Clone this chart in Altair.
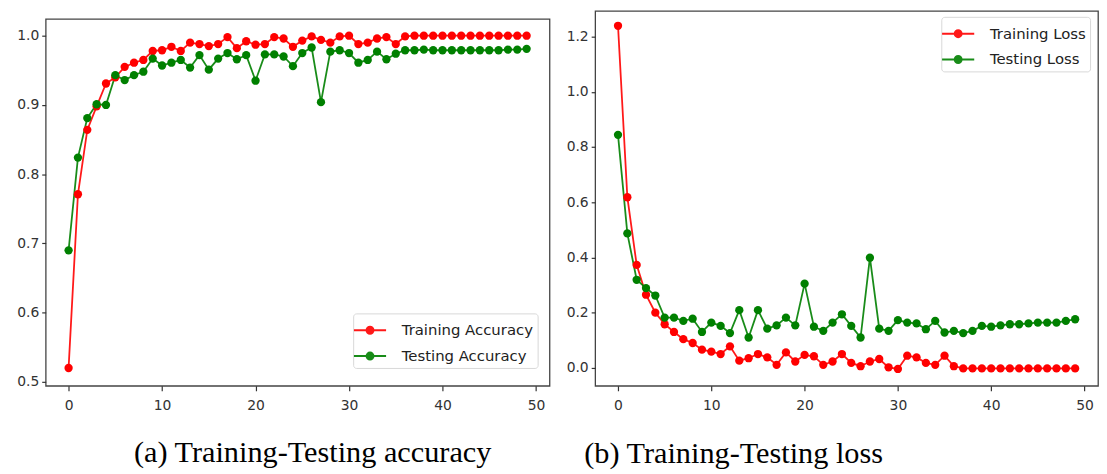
import altair as alt
import pandas as pd

epochs = list(range(50))

train_acc = [0.520, 0.771, 0.864, 0.898, 0.931, 0.940, 0.955, 0.961, 0.965, 0.978,
             0.979, 0.984, 0.978, 0.990, 0.988, 0.985, 0.988, 0.998, 0.982, 0.992,
             0.987, 0.988, 0.998, 0.996, 0.984, 0.993, 0.999, 0.994, 0.990, 0.999,
             1.000, 0.988, 0.990, 0.996, 0.998, 0.988, 0.999, 1.000, 1.000, 1.000,
             1.000, 1.000, 1.000, 1.000, 1.000, 1.000, 1.000, 1.000, 1.000, 1.000]
test_acc = [0.690, 0.824, 0.881, 0.901, 0.900, 0.943, 0.936, 0.943, 0.948, 0.967,
            0.957, 0.961, 0.965, 0.954, 0.972, 0.951, 0.967, 0.975, 0.966, 0.972,
            0.935, 0.973, 0.973, 0.970, 0.956, 0.975, 0.983, 0.904, 0.977, 0.979,
            0.975, 0.961, 0.965, 0.977, 0.966, 0.974, 0.979, 0.979, 0.980, 0.979,
            0.979, 0.979, 0.979, 0.979, 0.979, 0.979, 0.979, 0.980, 0.980, 0.981]
train_loss = [1.239, 0.618, 0.373, 0.265, 0.200, 0.158, 0.130, 0.104, 0.090, 0.066,
              0.059, 0.050, 0.078, 0.026, 0.035, 0.050, 0.038, 0.011, 0.056, 0.023,
              0.047, 0.042, 0.011, 0.023, 0.050, 0.018, 0.006, 0.023, 0.032, 0.002,
              -0.004, 0.044, 0.038, 0.018, 0.011, 0.044, 0.006, -0.002, -0.002, -0.002,
              -0.002, -0.002, -0.002, -0.002, -0.002, -0.002, -0.002, -0.002, -0.002, -0.002]
test_loss = [0.844, 0.487, 0.319, 0.289, 0.262, 0.182, 0.182, 0.170, 0.178, 0.130,
             0.164, 0.152, 0.126, 0.209, 0.110, 0.209, 0.142, 0.154, 0.182, 0.154,
             0.305, 0.149, 0.134, 0.164, 0.194, 0.152, 0.110, 0.399, 0.142, 0.134,
             0.173, 0.164, 0.161, 0.140, 0.170, 0.128, 0.134, 0.126, 0.134, 0.152,
             0.149, 0.154, 0.158, 0.158, 0.161, 0.164, 0.164, 0.164, 0.170, 0.176]

acc_names = ["Training Accuracy", "Testing Accuracy"]
loss_names = ["Training Loss", "Testing Loss"]
series_colors = ["#ff0000", "#008000"]
x_ticks = [0, 10, 20, 30, 40, 50]
acc_ticks = [0.5, 0.6, 0.7, 0.8, 0.9, 1.0]
loss_ticks = [0.0, 0.2, 0.4, 0.6, 0.8, 1.0, 1.2]
captions = ["(a) Training-Testing accuracy", "(b) Training-Testing loss"]

LEGEND_SYMBOL = ("M-1.35,0L1.35,0"
                 "M0.29,0A0.29,0.29 0 1,1 -0.29,0A0.29,0.29 0 1,1 0.29,0"
                 "M0.125,0A0.125,0.125 0 1,1 -0.125,0A0.125,0.125 0 1,1 0.125,0")


def long_df(names, a, b):
    return pd.DataFrame({
        "epoch": epochs + epochs,
        "value": a + b,
        "series": [names[0]] * len(a) + [names[1]] * len(b),
    })


def panel(df, names, ticks, ydom, w, h, lx, ly, caption, cap_dx, cap_off, yext):
    color = alt.Color(
        "series:N",
        scale=alt.Scale(domain=names, range=series_colors),
        sort=names,
        legend=alt.Legend(
            title=None, orient="none", legendX=lx, legendY=ly,
            symbolType=LEGEND_SYMBOL, symbolSize=576, symbolStrokeWidth=2,
            labelFont="DejaVu Sans", labelFontSize=15, labelColor="#222",
            labelOffset=19, padding=4, rowPadding=5,
            strokeColor="#d8d8d8", fillColor="rgba(255,255,255,0.85)",
            cornerRadius=3,
        ),
    )
    xs = alt.Scale(domain=[-2.45, 51.45], nice=False, zero=False)
    ys = alt.Scale(domain=ydom, nice=False, zero=False)
    return alt.Chart(df).mark_line(
        strokeWidth=1.8, opacity=0.9,
        point=alt.OverlayMarkDef(filled=True, size=70, opacity=1),
    ).encode(
        x=alt.X("epoch:Q", scale=xs,
                axis=alt.Axis(values=x_ticks, title=None, grid=False, domain=False,
                              tickSize=5, labelPadding=8)),
        y=alt.Y("value:Q", scale=ys,
                axis=alt.Axis(values=ticks, format=".1f", title=None, grid=False,
                              domain=False, tickSize=4, labelPadding=3,
                              minExtent=yext, maxExtent=yext)),
        color=color,
    ).properties(
        width=w, height=h,
        title=alt.TitleParams(
            caption, orient="bottom", anchor="start", frame="group", dx=cap_dx,
            offset=cap_off, font="Liberation Serif", fontSize=30.5,
            fontWeight="normal", color="black", baseline="top",
        ),
    )


left = panel(long_df(acc_names, train_acc, test_acc), acc_names, acc_ticks,
             [0.4943, 1.0244], 508, 370, 310, 305, captions[0], 89, 26, 37)
right = panel(long_df(loss_names, train_loss, test_loss), loss_names, loss_ticks,
              [-0.065, 1.293], 507, 378, 349, 6, captions[1], -11, 27, 34)

# invisible 1px strip that pushes the left panel a few pixels lower than the right one
spacer = alt.Chart(pd.DataFrame({"s": [0]})).mark_point(size=0, opacity=0).encode(
    x=alt.X("s:Q", axis=None), y=alt.Y("s:Q", axis=None)
).properties(width=1, height=1, view=alt.ViewBackground(stroke="transparent"))

left_col = alt.vconcat(spacer, left, spacing=5)

chart = alt.hconcat(left_col, right, spacing=10).resolve_scale(
    color="independent"
).properties(
    padding=0, background="white"
).configure_view(
    stroke="#444444", strokeWidth=1.3
).configure_axis(
    labelFont="DejaVu Sans", labelFontSize=14, labelColor="#333333",
    tickColor="#333333", tickWidth=1.2,
)

chart.save("out.html", embed_options={"renderer": "svg", "actions": False})
